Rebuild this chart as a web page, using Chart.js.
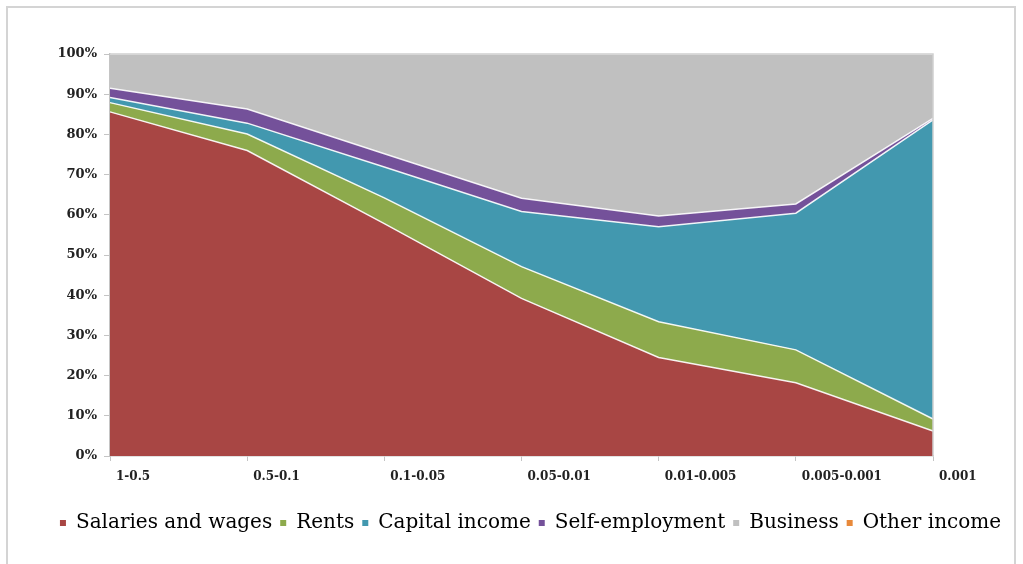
<!DOCTYPE html>
<html>
<head>
<meta charset="utf-8">
<title>Income composition by fractile</title>
<script src="https://cdn.jsdelivr.net/npm/chart.js@4/dist/chart.umd.min.js"></script>
<style>
  html, body { margin: 0; padding: 0; background: #fff; overflow: hidden; }
  #frame {
    position: absolute; left: 6px; top: 6px; width: 1010px; height: 600px;
    border: 2px solid #d4d4d4; box-sizing: border-box;
  }
  #wrap { position: absolute; left: 0; top: 0; width: 1023px; height: 564px; }
</style>
</head>
<body>
<div id="frame"></div>
<div id="wrap"><canvas id="myChart"></canvas></div>
<script>
// fractile groups (top income share)
const fractiles = ["1-0.5", "0.5-0.1", "0.1-0.05", "0.05-0.01", "0.01-0.005", "0.005-0.001", "0.001"];

// share of total income, in percent
const salaries = [85.6, 76.0, 57.8, 39.2, 24.5, 18.2, 6.2];
const rents = [2.3, 4.1, 6.4, 7.9, 8.9, 8.2, 3.0];
const capitalIncome = [1.3, 2.7, 7.7, 13.7, 23.6, 34.0, 74.4];
const selfEmployment = [2.3, 3.5, 3.3, 3.3, 2.7, 2.3, 0.4];
const business = [8.5, 13.7, 24.8, 35.9, 40.3, 37.3, 16.0];
const otherIncome = [0, 0, 0, 0, 0, 0, 0];

const yTicks = [0, 10, 20, 30, 40, 50, 60, 70, 80, 90, 100];

const series = [
  { label: "Salaries and wages", data: salaries, color: "#a84644" },
  { label: "Rents", data: rents, color: "#8daa4c" },
  { label: "Capital income", data: capitalIncome, color: "#4298af" },
  { label: "Self-employment", data: selfEmployment, color: "#74519a" },
  { label: "Business", data: business, color: "#c0c0c0" },
  { label: "Other income", data: otherIncome, color: "#e8893a" },
];

// light frame round the plot area
const plotFrame = {
  id: "plotFrame",
  afterDatasetsDraw(chart) {
    const { ctx, chartArea: a } = chart;
    ctx.save();
    ctx.strokeStyle = "#d0d0d0";
    ctx.lineWidth = 1.5;
    ctx.beginPath();
    ctx.moveTo(a.left, a.top);
    ctx.lineTo(a.right, a.top);
    ctx.lineTo(a.right, a.bottom);
    ctx.stroke();
    ctx.restore();
  },
};

// the legend sits a bit right of the canvas centre
const legendShift = {
  id: "legendShift",
  afterLayout(chart) {
    chart.legend.left += 19;
    chart.legend.right += 19;
  },
};

const ctx = document.getElementById("myChart").getContext("2d");
new Chart(ctx, {
  type: "line",
  data: {
    labels: fractiles,
    datasets: series.map((s, i) => ({
      label: s.label,
      data: s.data,
      backgroundColor: s.color,
      borderColor: "rgba(255,255,255,0.9)",
      borderWidth: 1.5,
      fill: i === 0 ? "origin" : "-1",
      tension: 0,
      pointRadius: 0,
      pointHoverRadius: 0,
    })),
  },
  options: {
    responsive: true,
    maintainAspectRatio: false,
    animation: false,
    layout: { padding: { top: 54, right: 0, bottom: 21, left: 0 } },
    plugins: {
      tooltip: { enabled: false },
      legend: {
        position: "bottom",
        labels: {
          boxWidth: 6,
          boxHeight: 6,
          padding: 8,
          color: "#1a1a1a",
          font: { family: "DejaVu Serif", size: 20 },
          generateLabels(chart) {
            return chart.data.datasets.map((d, i) => ({
              text: d.label,
              fillStyle: d.backgroundColor,
              strokeStyle: d.backgroundColor,
              lineWidth: 0,
              datasetIndex: i,
            }));
          },
        },
      },
    },
    scales: {
      x: {
        offset: false,
        afterFit(scale) { scale.height = 49; },
        border: { color: "#c4c4c4", width: 1.5 },
        grid: { drawOnChartArea: false, tickLength: 5, color: "#c4c4c4" },
        ticks: {
          autoSkip: false,
          maxRotation: 0,
          align: "start",
          labelOffset: 6,
          padding: 9,
          color: "#222",
          font: { family: "DejaVu Serif", size: 12, weight: "bold" },
        },
      },
      y: {
        stacked: true,
        min: 0,
        max: 100,
        afterFit(scale) { scale.width = 110; },
        afterBuildTicks(scale) { scale.ticks = yTicks.map((v) => ({ value: v })); },
        border: { color: "#c4c4c4", width: 1.5 },
        grid: { drawOnChartArea: false, tickLength: 6, color: "#c4c4c4" },
        ticks: {
          padding: 7,
          color: "#222",
          font: { family: "DejaVu Serif", size: 13, weight: "bold" },
          callback: (v) => v + "%",
        },
      },
      // empty axis that only reserves the white space right of the plot
      yRight: {
        position: "right",
        min: 0,
        max: 100,
        afterFit(scale) { scale.width = 90; },
        grid: { display: false },
        border: { display: false },
        ticks: { display: false },
      },
    },
  },
  plugins: [plotFrame, legendShift],
});
</script>
</body>
</html>
